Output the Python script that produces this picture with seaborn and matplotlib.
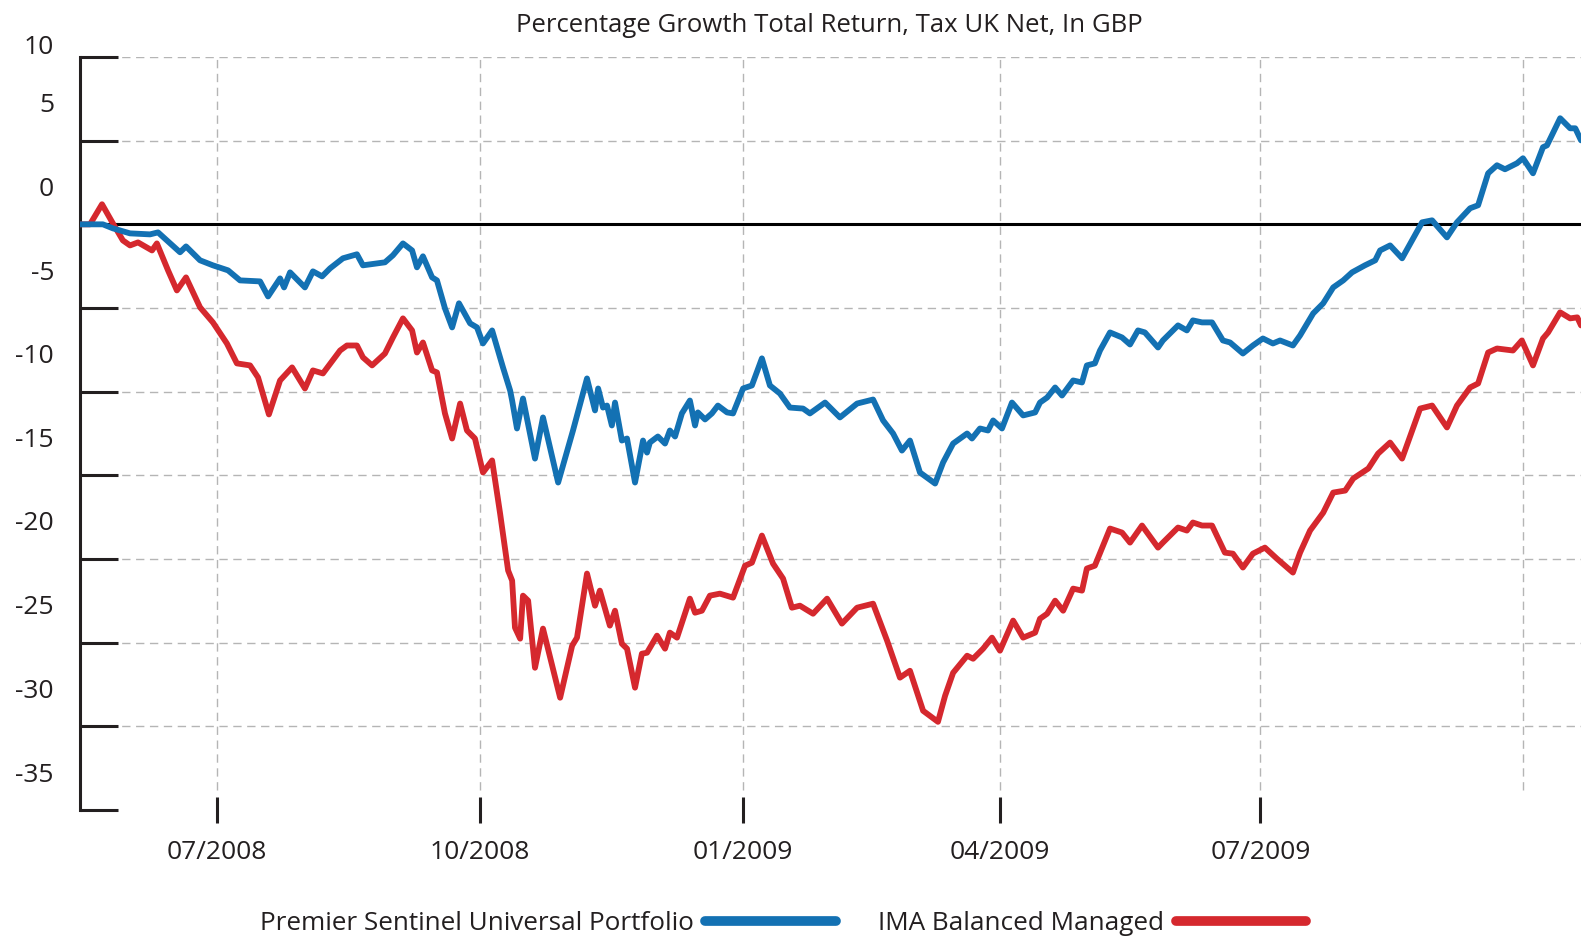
import numpy as np
import pandas as pd
import matplotlib
matplotlib.use("Agg")
import matplotlib.pyplot as plt
import matplotlib.dates as mdates
from matplotlib.lines import Line2D
import seaborn as sns

# ---------------- data ----------------
title = "Percentage Growth Total Return, Tax UK Net, In GBP"
series_names = ["Premier Sentinel Universal Portfolio", "IMA Balanced Managed"]
start_date = "2008-05-14"          # first observation
end_day = 525.2                     # last observation (days after start)

blue_days = [0, 8.0, 11.5, 17.5, 24.5, 27.3, 35.0, 37.1, 42.0, 46.5, 51.8, 56.0, 63.0, 65.8, 70.0,
             71.4, 73.5, 78.7, 81.5, 84.7, 87.5, 92.0, 96.9, 99.0, 106.7, 109.5, 113.0, 116.2,
             117.9, 120.0, 123.2, 124.9, 127.7, 130.2, 132.6, 136.5, 138.9, 141.0, 144.2, 148.0,
             150.5, 151.2, 152.9, 155.0, 159.2, 162.0, 167.3, 172.5, 177.4, 180.2, 181.3, 183.0,
             184.4, 186.1, 187.2, 189.6, 191.4, 194.2, 197.0, 198.4, 199.4, 202.2, 204.7, 206.4,
             208.2, 210.6, 213.4, 215.2, 216.2, 218.7, 221.1, 223.2, 226.4, 228.5, 232.0, 235.1,
             238.6, 241.4, 244.9, 248.4, 253.0, 255.4, 260.7, 265.9, 271.9, 277.5, 281.0, 284.5,
             287.6, 290.4, 293.9, 299.2, 302.0, 305.5, 310.4, 312.1, 314.9, 317.7, 319.5, 322.6,
             326.1, 330.0, 334.2, 335.9, 338.4, 341.2, 343.6, 347.5, 350.6, 352.3, 355.1, 356.9,
             360.4, 364.6, 367.4, 370.2, 372.6, 377.2, 378.9, 384.2, 387.3, 389.4, 392.6, 396.1,
             399.9, 402.4, 406.9, 410.4, 413.9, 417.4, 419.9, 424.4, 426.9, 431.5, 435.0, 438.5,
             442.0, 445.1, 449.6, 453.2, 454.9, 458.4, 462.6, 466.1, 469.6, 473.1, 478.3, 481.8,
             486.4, 489.2, 492.7, 495.8, 498.6, 502.8, 504.9, 508.4, 511.9, 513.3, 517.9, 521.4,
             523.2, 525.2]
blue_values = [0, 0, -0.24, -0.54, -0.60, -0.48, -1.67, -1.32, -2.15, -2.45, -2.75, -3.35, -3.41,
               -4.31, -3.23, -3.77, -2.87, -3.77, -2.81, -3.11, -2.63, -2.03, -1.79, -2.45, -2.27,
               -1.85, -1.14, -1.56, -2.57, -1.91, -3.17, -3.35, -5.02, -6.16, -4.72, -5.92, -6.16,
               -7.12, -6.34, -8.55, -9.93, -10.53, -12.20, -10.41, -14.00, -11.54, -15.43, -12.32,
               -9.21, -11.12, -9.81, -10.95, -10.83, -12.02, -10.65, -12.92, -12.80, -15.43,
               -12.92, -13.64, -13.04, -12.68, -13.10, -12.32, -12.68, -11.30, -10.53, -12.02,
               -11.24, -11.66, -11.30, -10.83, -11.24, -11.30, -9.81, -9.63, -8.01, -9.63, -10.11,
               -10.95, -11.01, -11.30, -10.65, -11.54, -10.71, -10.47, -11.72, -12.50, -13.52,
               -12.92, -14.83, -15.49, -14.23, -13.10, -12.50, -12.80, -12.20, -12.32, -11.72,
               -12.20, -10.65, -11.42, -11.24, -10.65, -10.35, -9.75, -10.23, -9.33, -9.45, -8.43,
               -8.31, -7.54, -6.46, -6.76, -7.18, -6.34, -6.46, -7.36, -6.94, -6.04, -6.34, -5.74,
               -5.86, -5.86, -6.94, -7.06, -7.72, -7.24, -6.82, -7.12, -6.94, -7.24, -6.64, -5.32,
               -4.72, -3.77, -3.35, -2.87, -2.45, -2.15, -1.56, -1.26, -2.03, -0.96, 0.12, 0.24,
               -0.78, 0.12, 0.96, 1.14, 3.05, 3.53, 3.29, 3.65, 3.95, 3.05, 4.61, 4.72, 6.34, 5.74,
               5.74, 5.02]

red_days = [0, 3.5, 7.7, 11.5, 15.0, 17.5, 20.3, 25.2, 26.9, 30.8, 33.9, 37.1, 42.0, 46.5, 51.4,
            54.9, 59.5, 62.3, 66.1, 70.0, 74.2, 78.7, 81.5, 85.0, 91.0, 93.4, 96.9, 99.0, 102.2,
            106.7, 109.5, 113.0, 116.2, 117.9, 120.0, 123.2, 124.9, 127.7, 130.2, 133.0, 135.4,
            138.2, 141.0, 144.2, 147.0, 149.8, 151.2, 152.2, 154.0, 155.0, 156.8, 159.2, 162.0,
            168.0, 172.2, 173.9, 177.4, 180.2, 181.9, 185.4, 187.2, 189.6, 191.4, 194.2, 196.6,
            198.4, 201.9, 204.7, 206.4, 208.9, 213.4, 215.2, 217.6, 220.4, 223.9, 228.5, 232.7,
            235.1, 238.6, 242.5, 246.0, 249.1, 251.9, 256.5, 261.4, 266.6, 271.9, 277.5, 282.4,
            286.9, 290.4, 295.0, 300.2, 302.7, 305.5, 310.4, 312.5, 316.0, 319.1, 321.9, 326.5,
            330.0, 334.2, 335.9, 338.4, 341.2, 344.0, 347.5, 350.6, 352.3, 355.1, 360.4, 364.6,
            367.4, 371.6, 377.2, 378.9, 384.2, 387.3, 389.4, 392.6, 396.1, 400.6, 403.4, 406.9,
            410.4, 414.6, 418.8, 424.4, 426.9, 430.4, 435.0, 438.5, 442.7, 445.5, 450.8, 454.2,
            458.4, 462.6, 468.9, 473.1, 478.3, 481.8, 486.4, 489.2, 492.7, 495.8, 501.4, 504.5,
            508.4, 511.9, 513.7, 517.9, 521.4, 523.9, 525.2]
red_values = [0, 0, 1.20, 0.06, -0.96, -1.26, -1.08, -1.56, -1.14, -2.75, -3.95, -3.17, -4.96,
              -5.86, -7.12, -8.31, -8.43, -9.15, -11.36, -9.33, -8.55, -9.81, -8.73, -8.91, -7.54,
              -7.24, -7.24, -7.95, -8.43, -7.72, -6.76, -5.62, -6.34, -7.66, -7.06, -8.73, -8.85,
              -11.30, -12.80, -10.71, -12.32, -12.80, -14.83, -14.11, -17.29, -20.69, -21.29,
              -24.10, -24.76, -22.19, -22.49, -26.50, -24.16, -28.29, -25.18, -24.70, -20.87,
              -22.79, -21.89, -23.98, -23.09, -25.06, -25.36, -27.69, -25.66, -25.60, -24.58,
              -25.36, -24.40, -24.70, -22.37, -23.21, -23.09, -22.19, -22.07, -22.31, -20.40,
              -20.22, -18.60, -20.28, -21.17, -22.91, -22.79, -23.27, -22.37, -23.86, -22.91,
              -22.67, -24.88, -27.09, -26.68, -29.07, -29.73, -28.17, -26.80, -25.78, -25.96,
              -25.36, -24.70, -25.48, -23.68, -24.70, -24.40, -23.57, -23.27, -22.49, -23.09,
              -21.77, -21.89, -20.57, -20.40, -18.18, -18.42, -19.02, -18.00, -19.32, -19.02,
              -18.12, -18.30, -17.82, -18.00, -18.00, -19.62, -19.68, -20.51, -19.68, -19.32,
              -19.98, -20.81, -19.62, -18.30, -17.23, -16.03, -15.91, -15.19, -14.59, -13.70,
              -13.04, -14.00, -11.01, -10.83, -12.14, -10.83, -9.75, -9.51, -7.66, -7.42, -7.54,
              -6.94, -8.43, -6.82, -6.46, -5.26, -5.62, -5.56, -6.04]

y_ticks = [10, 5, 0, -5, -10, -15, -20, -25, -30, -35]
x_tick_dates = ["2008-07-01", "2008-10-01", "2009-01-01", "2009-04-01", "2009-07-01"]
x_tick_labels = ["07/2008", "10/2008", "01/2009", "04/2009", "07/2009"]
grid_dates = ["2008-07-01", "2008-10-01", "2009-01-01", "2009-04-01", "2009-07-01", "2009-10-01"]

# ---------------- style ----------------
BLUE = "#1371b3"
RED = "#d5282e"
INK = "#231f20"
GRID = "#b5b5b5"

sns.set_theme(style="white")
plt.rcParams["font.family"] = ["Open Sans", "DejaVu Sans"]

W, H = 1581, 940
fig = plt.figure(figsize=(W / 100, H / 100), dpi=100)
ax = fig.add_axes([80 / W, 130 / H, 1 - 80 / W, 753 / H])

t0 = pd.Timestamp(start_date)
df_blue = pd.DataFrame({"date": t0 + pd.to_timedelta(blue_days, unit="D"), "value": blue_values})
df_red = pd.DataFrame({"date": t0 + pd.to_timedelta(red_days, unit="D"), "value": red_values})

# grid lines (drawn first, underneath)
for v in y_ticks[:-1]:
    ax.axhline(v, color=GRID, lw=1.0, ls=(0, (6, 4)), zorder=0)
for d in pd.to_datetime(grid_dates):
    ax.axvline(d, ymin=0.027, ymax=1, color=GRID, lw=1.0, ls=(0, (6, 4)), zorder=0)

# zero line
ax.axhline(0, color="black", lw=2.2, zorder=1)

sns.lineplot(data=df_red, x="date", y="value", ax=ax, color=RED, linewidth=4.2,
             estimator=None, sort=False, solid_joinstyle="round", solid_capstyle="round", zorder=3)
sns.lineplot(data=df_blue, x="date", y="value", ax=ax, color=BLUE, linewidth=4.2,
             estimator=None, sort=False, solid_joinstyle="round", solid_capstyle="round", zorder=4)

ax.set_xlim(t0, t0 + pd.Timedelta(days=end_day))
ax.set_ylim(-35, 10)
ax.set_xlabel("")
ax.set_ylabel("")

for s in ["top", "right", "bottom"]:
    ax.spines[s].set_visible(False)
ax.spines["left"].set_color(INK)
ax.spines["left"].set_linewidth(2.2)

# y ticks: tick marks on the axis, labels drawn shifted upward as in the original
ax.set_yticks(y_ticks)
ax.set_yticklabels([])
ax.tick_params(axis="y", direction="in", length=27.5, width=2.2, color=INK, left=True)
for v in y_ticks:
    dy = 10 if v == y_ticks[0] else 35
    ax.annotate(str(v), xy=(0, v), xycoords=ax.get_yaxis_transform(),
                xytext=(-26, dy), textcoords="offset pixels",
                ha="right", va="center", fontsize=19, color=INK)

# x ticks
ax.set_xticks(mdates.date2num(pd.to_datetime(x_tick_dates)))
ax.set_xticklabels(x_tick_labels)
ax.tick_params(axis="x", direction="inout", length=18.7, width=2.2, color=INK,
               bottom=True, labelsize=19, labelcolor=INK, pad=12)

# title
fig.text(829 / W, 1 - 25 / H, title, ha="center", va="center", fontsize=18.5, color=INK)

# legend: label first, then thick line sample
handles = [Line2D([0], [0], color=BLUE, lw=7, solid_capstyle="round"),
           Line2D([0], [0], color=RED, lw=7, solid_capstyle="round")]
fig.legend(handles, series_names, loc="center", bbox_to_anchor=(783 / W, 1 - 924 / H),
           ncol=2, markerfirst=False, frameon=False, fontsize=18.8, handlelength=5.0,
           handletextpad=0.45, columnspacing=1.6, labelcolor=INK)

fig.savefig("out.png", dpi=100)
